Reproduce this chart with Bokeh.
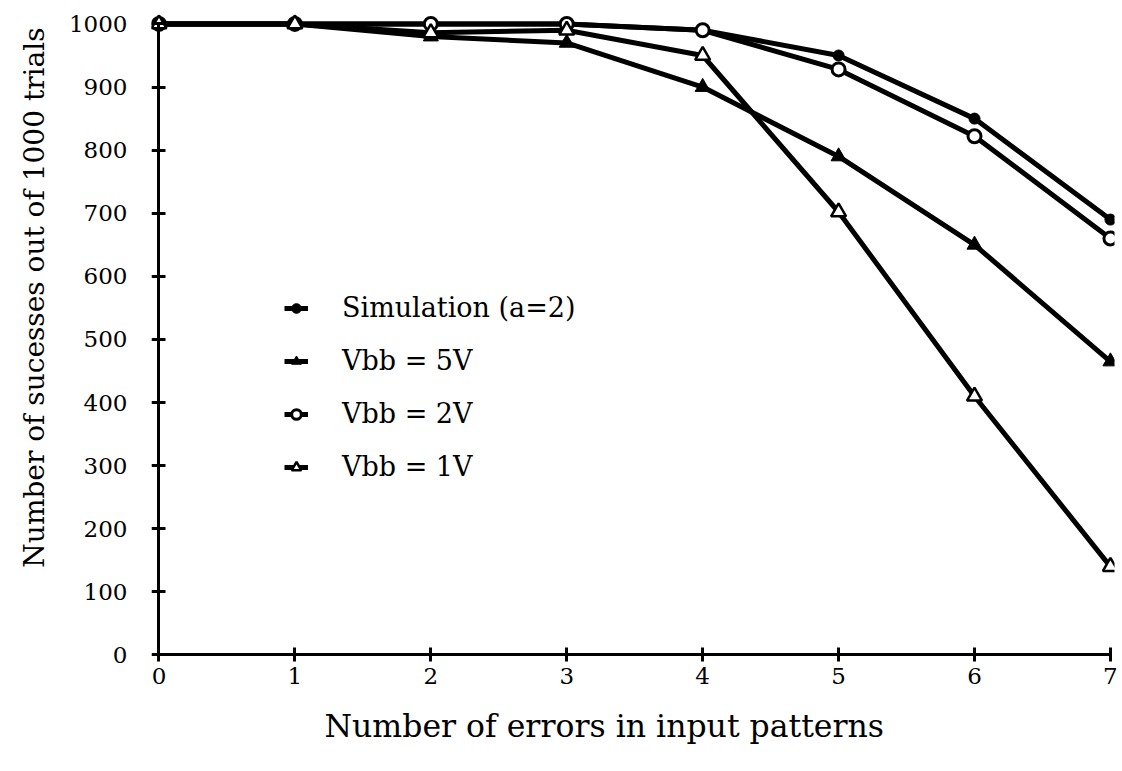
from bokeh.plotting import figure
from bokeh.models import Legend, LegendItem, Range1d, FixedTicker, LinearAxis, Title
from bokeh.embed import file_html
from bokeh.resources import INLINE

errors = [0, 1, 2, 3, 4, 5, 6, 7]
simulation = [1000, 1000, 1000, 1000, 990, 950, 850, 690]
vbb5 = [1000, 1000, 980, 970, 900, 790, 650, 465]
vbb2 = [1000, 1000, 1000, 1000, 990, 928, 822, 660]
vbb1 = [1000, 1000, 986, 990, 950, 702, 410, 140]

x_ticks = [0, 1, 2, 3, 4, 5, 6, 7]
y_ticks = [0, 100, 200, 300, 400, 500, 600, 700, 800, 900, 1000]

x_title_text = "Number of errors in input patterns"
y_title_text = "Number of sucesses out of 1000 trials"

FONT = "DejaVu Serif"

p = figure(width=1120, height=770, output_backend="svg", toolbar_location=None,
           x_range=Range1d(-0.055, 7.03), y_range=Range1d(-12, 1015),
           min_border_left=150, min_border_right=6, min_border_top=14, min_border_bottom=108)
p.outline_line_color = None
p.grid.visible = False
p.background_fill_color = "white"

# tick-label axes at the frame edges (no line, no ticks)
for ax in (p.xaxis[0], p.yaxis[0]):
    ax.axis_line_color = None
    ax.major_tick_line_color = None
    ax.minor_tick_line_color = None
    ax.major_tick_in = 0
    ax.major_tick_out = 0
    ax.major_label_text_font = FONT
    ax.major_label_text_color = "black"

xa = p.xaxis[0]
ya = p.yaxis[0]
xa.ticker = FixedTicker(ticks=x_ticks)
ya.ticker = FixedTicker(ticks=y_ticks)
xa.major_label_text_font_size = "23px"
ya.major_label_text_font_size = "23px"
xa.major_label_standoff = 5
ya.major_label_standoff = 24

# axis lines with crossing ticks, fixed at the data origin
x_line = LinearAxis(ticker=FixedTicker(ticks=x_ticks), fixed_location=0, bounds=(0, 7))
y_line = LinearAxis(ticker=FixedTicker(ticks=y_ticks), fixed_location=0, bounds=(0, 1000))
for ax in (x_line, y_line):
    ax.axis_line_width = 3
    ax.major_tick_line_width = 3
    ax.major_tick_in = 7
    ax.major_tick_out = 7
    ax.minor_tick_line_color = None
    ax.major_label_text_font_size = "0px"
    ax.major_label_text_alpha = 0
p.add_layout(x_line, "below")
p.add_layout(y_line, "left")

# axis titles, placed off-centre as in the original
xtitle = Title(text=x_title_text, align="left", offset=173,
               text_font=FONT, text_font_size="31.5px", text_font_style="normal",
               text_color="black", standoff=38)
p.add_layout(xtitle, "below")

ytitle = Title(text=y_title_text, align="right", offset=13,
               text_font=FONT, text_font_size="28px", text_font_style="normal",
               text_color="black", standoff=30)
p.add_layout(ytitle, "left")

LW = 5
l_sim = p.line(errors, simulation, line_color="black", line_width=LW)
l_5 = p.line(errors, vbb5, line_color="black", line_width=LW)
l_2 = p.line(errors, vbb2, line_color="black", line_width=LW)
l_1 = p.line(errors, vbb1, line_color="black", line_width=LW)

m_sim = p.scatter(errors, simulation, marker="circle", size=11, fill_color="black", line_color="black")
m_5 = p.scatter(errors, vbb5, marker="triangle", size=15, fill_color="black", line_color="black")
m_2 = p.scatter(errors, vbb2, marker="circle", size=13, fill_color="white", line_color="black", line_width=3)
m_1 = p.scatter(errors, vbb1, marker="triangle", size=15, fill_color="white", line_color="black", line_width=2.5)

legend = Legend(items=[
    LegendItem(label="Simulation (a=2)", renderers=[l_sim, m_sim]),
    LegendItem(label="Vbb = 5V", renderers=[l_5, m_5]),
    LegendItem(label="Vbb = 2V", renderers=[l_2, m_2]),
    LegendItem(label="Vbb = 1V", renderers=[l_1, m_1]),
], location=(133, 180))
legend.background_fill_alpha = 0
legend.border_line_color = None
legend.label_text_font = FONT
legend.label_text_font_size = "27px"
legend.label_text_color = "black"
legend.glyph_width = 24
legend.glyph_height = 30
legend.label_height = 30
legend.spacing = 22
legend.padding = 0
legend.margin = 0
legend.label_standoff = 34
p.add_layout(legend, "center")

open("out.html", "w").write(file_html(p, INLINE))
